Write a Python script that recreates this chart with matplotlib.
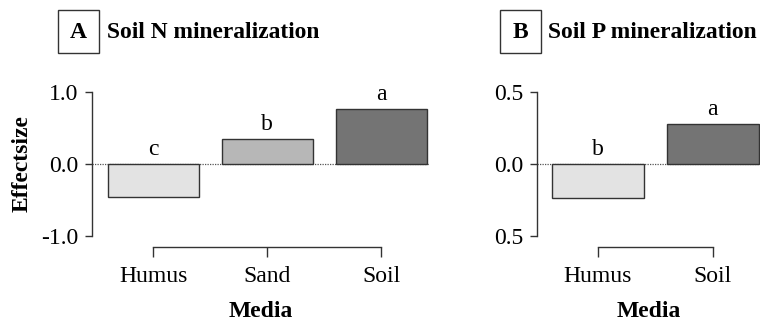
import matplotlib
matplotlib.use("Agg")
import matplotlib.pyplot as plt
from matplotlib.patches import Rectangle

plt.rcParams['font.family'] = ['Liberation Serif', 'DejaVu Serif']

# panel A: soil N mineralization
media_n = ["Humus", "Sand", "Soil"]
effect_n = [-0.46, 0.35, 0.76]
letters_n = ["c", "b", "a"]
colors_n = ["#e3e3e3", "#b7b7b7", "#747474"]
yticks_n = [-1.0, 0.0, 1.0]
yticklabels_n = ["-1.0", "0.0", "1.0"]

# panel B: soil P mineralization
media_p = ["Humus", "Soil"]
effect_p = [-0.235, 0.28]
letters_p = ["b", "a"]
colors_p = ["#e3e3e3", "#747474"]
yticks_p = [-0.5, 0.0, 0.5]
yticklabels_p = ["0.5", "0.0", "0.5"]

W, H = 772, 321
fig = plt.figure(figsize=(W / 100, H / 100), dpi=100)

FS = 17
AX = "#333333"


def px_axes(x0, x1, y0, y1):
    # pixel box (top-left origin) -> figure fraction axes
    return fig.add_axes([x0 / W, 1 - y1 / H, (x1 - x0) / W, (y1 - y0) / H])


def panel(ax, names, vals, letters, colors, yt, ytl, xlim, ylim):
    xs = list(range(len(names)))
    ax.bar(xs, vals, width=0.8, color=colors, edgecolor="#333333",
           linewidth=1.0, zorder=2)
    ax.axhline(0, color="#555555", lw=0.9, ls=(0, (1, 1)), zorder=1)
    for x, v, t in zip(xs, vals, letters):
        ax.annotate(t, (x, max(v, 0)), xytext=(0, 3), textcoords="offset points",
                    ha="center", va="bottom", fontsize=FS)
    ax.set_xlim(*xlim)
    ax.set_ylim(*ylim)
    for s in ("top", "right"):
        ax.spines[s].set_visible(False)
    ax.spines["left"].set_bounds(ylim[0], ylim[1])
    ax.spines["bottom"].set_bounds(0, len(names) - 1)
    ax.spines["bottom"].set_position(("outward", 8))
    for s in ("left", "bottom"):
        ax.spines[s].set_color(AX)
        ax.spines[s].set_linewidth(1.0)
    ax.set_yticks(yt)
    ax.set_yticklabels(ytl)
    ax.set_xticks(xs)
    ax.set_xticklabels(names)
    ax.tick_params(axis="y", length=5, width=1.0, color=AX, pad=5, labelsize=FS)
    ax.tick_params(axis="x", length=7.2, width=1.0, color=AX, pad=6.5, labelsize=FS)
    ax.set_facecolor("none")
    ax.set_xlabel("Media", fontweight="bold", fontsize=FS, labelpad=10)


axA = px_axes(92, 429, 92, 236)
panel(axA, media_n, effect_n, letters_n, colors_n, yticks_n, yticklabels_n,
      (-0.54, 2.42), (-1.0, 1.0))
axA.set_ylabel("Effectsize", fontweight="bold", fontsize=FS, labelpad=6)

axB = px_axes(537, 760, 92, 236)
panel(axB, media_p, effect_p, letters_p, colors_p, yticks_p, yticklabels_p,
      (-0.53, 1.41), (-0.5, 0.5))

# boxed panel letters and titles
for bx, tx, tag, title in [(58, 107, "A", "Soil N mineralization"),
                           (500, 548, "B", "Soil P mineralization")]:
    fig.patches.append(Rectangle((bx / W, 1 - 53 / H), 41 / W, 43 / H,
                                 transform=fig.transFigure, fill=False,
                                 edgecolor="#333333", lw=1.0))
    fig.text((bx + 20.5) / W, 1 - 32 / H, tag, ha="center", va="center",
             fontsize=FS, fontweight="bold")
    fig.text(tx / W, 1 - 32 / H, title, ha="left", va="center",
             fontsize=16.9, fontweight="bold")

fig.savefig("out.png", dpi=100)
